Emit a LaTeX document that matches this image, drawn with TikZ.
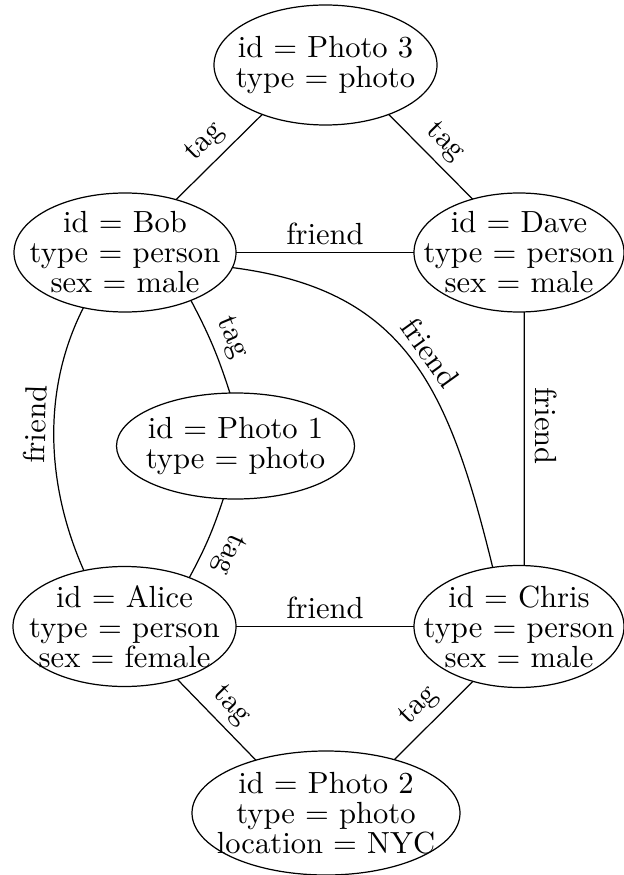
\documentclass[tikz,border=0pt]{standalone}
\usetikzlibrary{shapes.geometric}
\begin{document}
% one drawing unit = 0.327pt, y grows downward
\newcommand\pxu{0.327pt}
\begin{tikzpicture}[x=0.327pt, y=-0.327pt,
  vertex/.style={draw, ellipse, inner sep=0pt, outer sep=0pt, line width=0.4pt},
  vsize/.style 2 args={minimum width=#1*\pxu, minimum height=#2*\pxu},
  vtext/.style={align=center, inner sep=0pt, font=\fontsize{10}{9.8}\selectfont},
  elabel/.style={font=\fontsize{10}{9.8}\selectfont, inner sep=2.4pt},
  link/.style={line width=0.4pt}]
\useasboundingbox (0,0) rectangle (624,875);

% vertices
\node[vertex, vsize={223}{120}] (p3) at (325.5,65) {};
\node[vtext] (p3-txt) at (p3) {id $=$ Photo 3\\type $=$ photo};

\node[vertex, vsize={222}{119}] (bob) at (125,252.5) {};
\node[vtext] (bob-txt) at (bob) {id $=$ Bob\\type $=$ person\\sex $=$ male};

\node[vertex, vsize={210}{119}] (dave) at (519,252.5) {};
\node[vtext] (dave-txt) at (dave) {id $=$ Dave\\type $=$ person\\sex $=$ male};

\node[vertex, vsize={238}{106}] (p1) at (235.5,446) {};
\node[vtext] (p1-txt) at (p1) {id $=$ Photo 1\\type $=$ photo};

\node[vertex, vsize={223}{120}] (alice) at (124.5,626.5) {};
\node[vtext] (alice-txt) at (alice) {id $=$ Alice\\type $=$ person\\sex $=$ female};

\node[vertex, vsize={210}{122}] (chris) at (519,626.5) {};
\node[vtext] (chris-txt) at (chris) {id $=$ Chris\\type $=$ person\\sex $=$ male};

\node[vertex, vsize={268}{124}] (p2) at (326,813) {};
\node[vtext] (p2-txt) at (p2) {id $=$ Photo 2\\type $=$ photo\\location $=$ NYC};

% edges
\draw[link] (p3.-142) -- node[elabel, sloped, above] {tag} (bob.46);
\draw[link] (p3.-38) -- node[elabel, sloped, above] {tag} (dave.131);
\draw[link] (bob.east) -- node[elabel, above] {friend} (dave.west);
\draw[link] (bob.-8) .. controls (405,290) and (448,385) ..
  node[elabel, pos=0.52, sloped, above] {friend} (chris.114);
\draw[link] (dave.-85) -- node[elabel, pos=0.45, rotate=-90, anchor=south, inner sep=3.3pt] {friend} (chris.85);
\draw[link] (bob.-36) to[bend left=5] node[elabel, sloped, above] {tag} (p1.96);
\draw[link] (alice.126) to[out=114, in=-117, looseness=0.9]
  node[elabel, pos=0.55, sloped, above] {friend} (bob.233);
\draw[link] (p1.-103) to[bend left=5]
  node[elabel, pos=0.57, sloped, above, allow upside down, inner sep=3.6pt] {tag} (alice.37);
\draw[link] (alice.east) -- node[elabel, above] {friend} (chris.west);
\draw[link] (alice.-45) -- node[elabel, sloped, above] {tag} (p2.143);
\draw[link] (chris.-130) -- node[elabel, sloped, above] {tag} (p2.38);
\end{tikzpicture}
\end{document}
